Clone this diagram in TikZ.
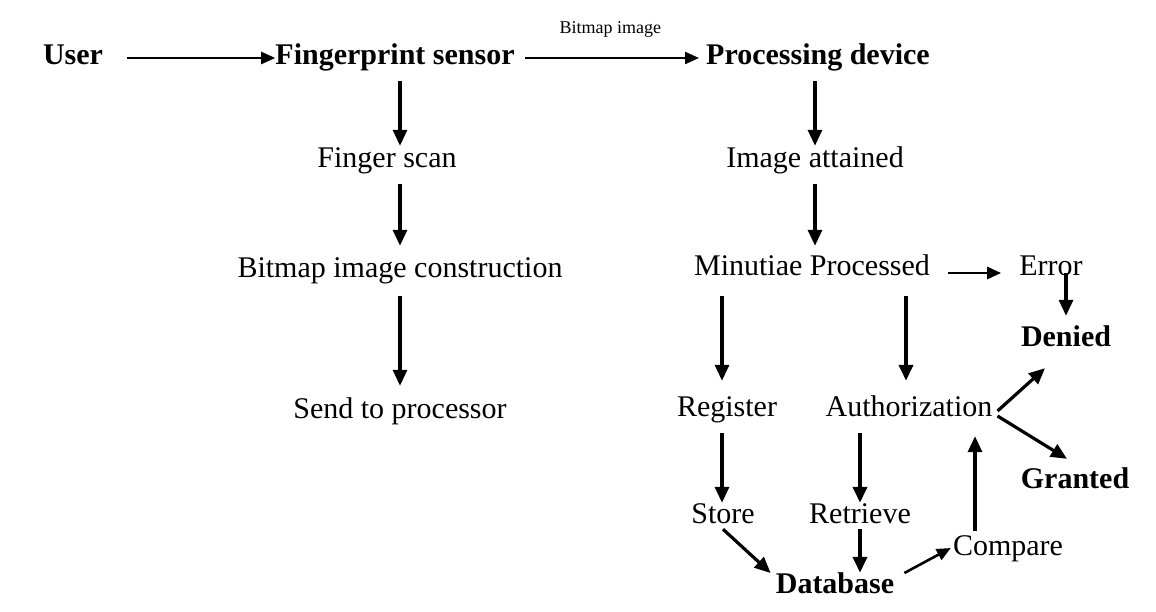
\documentclass[tikz,border=0pt]{standalone}
\usepackage{fontspec}
\setmainfont{Liberation Serif}
\usetikzlibrary{arrows.meta}
\begin{document}
\begin{tikzpicture}[x=1pt,y=-1pt,
  txt/.style={inner sep=0pt,text height=20pt,text depth=6pt,font=\fontsize{30}{32}\selectfont},
  btxt/.style={txt,font=\fontsize{30}{32}\selectfont\bfseries},
  arr/.style={line width=3.2pt,-{Triangle[length=16pt,width=14pt]}},
  harr/.style={line width=2.2pt,-{Triangle[length=14pt,width=12pt]}}]
\useasboundingbox[fill=white] (0,0) rectangle (1156,612);
% nodes
\node[btxt] (user) at (73,58) {User};
\node[btxt] (fs) at (395,58) {Fingerprint sensor};
\node[btxt] (pd) at (818,58) {Processing device};
\node[txt] (scan) at (387,161) {Finger scan};
\node[txt] (bic) at (400,271) {Bitmap image construction};
\node[txt] (send) at (400,411) {Send to processor};
\node[txt] (img) at (815,161) {Image attained};
\node[txt] (mp) at (812,269) {Minutiae Processed};
\node[txt] (err) at (1051,269) {Error};
\node[btxt] (den) at (1066,339) {Denied};
\node[txt] (reg) at (727,409) {Register};
\node[txt] (auth) at (909,409) {Authorization};
\node[btxt] (gra) at (1075,481) {Granted};
\node[txt] (store) at (723,516) {Store};
\node[txt] (ret) at (860,516) {Retrieve};
\node[btxt] (db) at (835,586) {Database};
\node[txt] (cmp) at (1008,548) {Compare};
% arrows
\draw[harr,shorten <=24pt] (user.east) -- (fs.west);
\draw[harr,shorten <=10pt,shorten >=7pt] (fs.east) -- node[above=20pt,inner sep=0pt,font=\fontsize{18}{20}\selectfont] (lbl) {Bitmap image} (pd.west);
\draw[arr,shorten <=10pt,shorten >=2pt] ([xshift=5pt]fs.south) -- ([xshift=13pt]scan.north);
\draw[arr,shorten <=10pt,shorten >=12pt] ([xshift=13pt]scan.south) -- (bic.north);
\draw[arr,shorten <=12pt,shorten >=12pt] (bic.south) -- (send.north);
\draw[arr,shorten <=10pt,shorten >=2pt] ([xshift=-3pt]pd.south) -- (img.north);
\draw[arr,shorten <=10pt,shorten >=10pt] (img.south) -- ([xshift=3pt]mp.north);
\draw[harr,line width=2.8pt,shorten <=18pt,shorten >=18pt] ([yshift=-4pt]mp.east) -- ([yshift=-4pt]err.west);
\draw[arr,shorten >=10pt] ([xshift=15pt,yshift=-4pt]err.center) -- (den.north);
\draw[arr,shorten <=14pt,shorten >=15pt] ([xshift=-90pt]mp.south) -- ([xshift=-5pt]reg.north);
\draw[arr,line width=3.8pt,shorten <=14pt,shorten >=15pt] ([xshift=94pt]mp.south) -- ([xshift=-3pt]auth.north);
\draw[arr] ([xshift=5pt,yshift=-2pt]auth.east) -- ([xshift=-21pt,yshift=-16pt]den.south);
\draw[arr] ([xshift=5pt,yshift=-7pt]auth.east) -- ([xshift=-8pt,yshift=9pt]gra.north);
\draw[arr,shorten <=11pt] ([xshift=-5pt]reg.south) -- ([xshift=-1pt]store.north);
\draw[arr,line width=3.8pt,shorten <=11pt] ([xshift=-49pt]auth.south) -- (ret.north);
\draw[arr,line width=3.8pt] (ret.south) -- ([xshift=25pt]db.north);
\draw[arr] (store.south) -- ([xshift=-5pt,yshift=13pt]db.west);
\draw[harr,line width=2.6pt] ([xshift=10pt,yshift=13pt]db.east) -- ([xshift=-2pt]cmp.west);
\draw[arr,shorten <=4pt,shorten >=14pt] ([xshift=-33pt]cmp.north) -- ([xshift=66pt]auth.south);
\end{tikzpicture}
\end{document}
